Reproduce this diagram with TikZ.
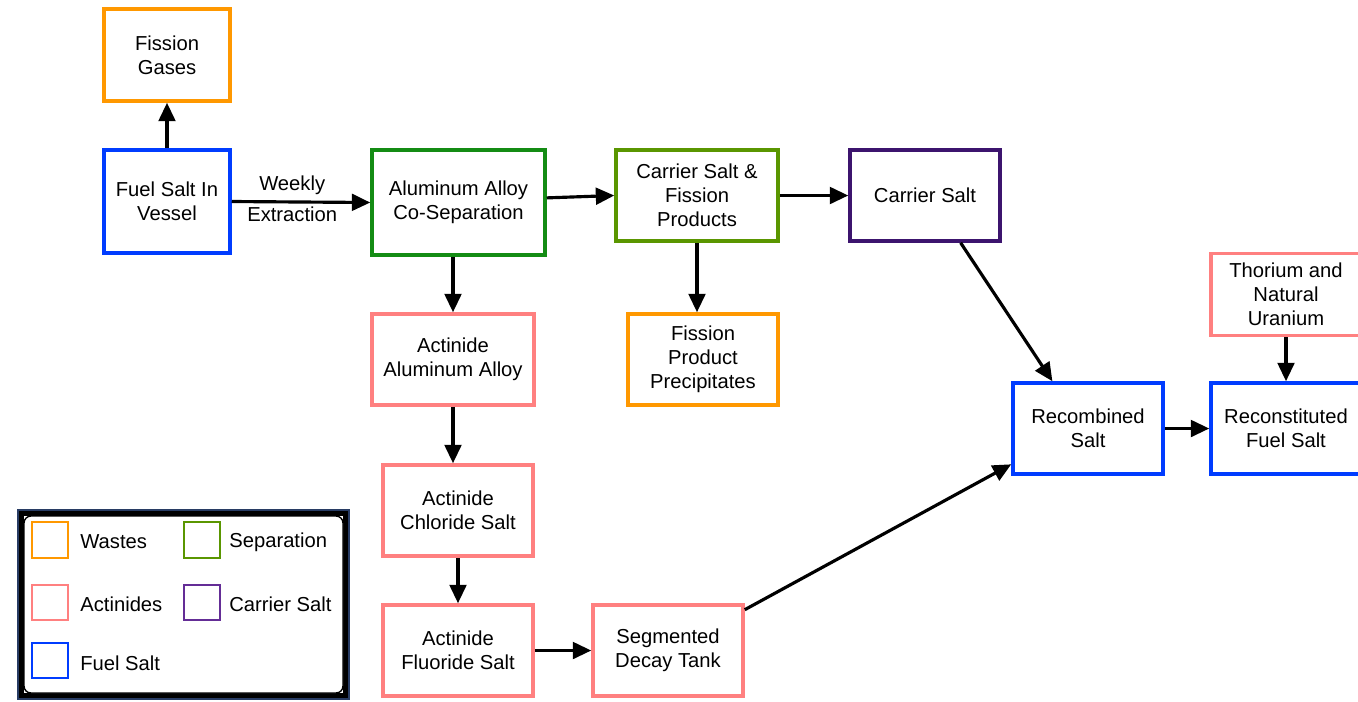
\documentclass[tikz,border=0pt]{standalone}
\usepackage{fontspec}
\setmainfont{Liberation Sans}
\usetikzlibrary{arrows.meta, positioning, calc}
\definecolor{wasteorange}{RGB}{255, 152, 0}
\definecolor{sepgreen}{RGB}{20, 140, 20}
\definecolor{sepolive}{RGB}{90, 150, 0}
\definecolor{actpink}{RGB}{255, 128, 128}
\definecolor{carrierpurple}{RGB}{60, 20, 110}
\definecolor{legendpurple}{RGB}{100, 45, 150}
\definecolor{fuelblue}{RGB}{0, 60, 255}
\definecolor{framebluegray}{RGB}{40, 60, 100}

\begin{document}
\begin{tikzpicture}[x=0.02cm, y=-0.02cm,
    box/.style={draw, line width=2pt, fill=white, align=center, inner sep=2pt,
        minimum width=3cm, minimum height=1.82cm, font=\fontsize{11.5}{13.6}\selectfont},
    wastebox/.style={box, draw=wasteorange},
    sepbox/.style={box, draw=sepgreen},
    actbox/.style={box, draw=actpink},
    carrierbox/.style={box, draw=carrierpurple},
    fuelbox/.style={box, draw=fuelblue},
    flow/.style={-{Triangle[length=10.5pt, width=9.5pt]}, line width=1.8pt},
    keysquare/.style={line width=1.3pt},
    keytext/.style={anchor=west, inner sep=0pt, font=\fontsize{11.5}{13.6}\selectfont}]
    \useasboundingbox (0,0) rectangle (1358,701);

    % Reactor and off-gas
    \node[wastebox, minimum width=2.52cm, minimum height=1.84cm] (gases) at (167,55) {Fission\\Gases};
    \node[fuelbox, minimum width=2.52cm, minimum height=2.06cm] (vessel) at (167,201.5) {Fuel Salt In\\Vessel};

    % Separation line
    \node[sepbox, minimum width=3.46cm, minimum height=2.1cm] (alloysep) at (458.5,202.5) {Aluminum Alloy\\Co-Separation};
    \node[box, draw=sepolive, minimum width=3.24cm] (carrierfp) at (697,195.5) {Carrier Salt \&\\Fission\\Products};
    \node[carrierbox] (carrier) at (925,195.5) {Carrier Salt};
    \node[wastebox] (precip) at (703,359.5) {Fission\\Product\\Precipitates};

    % Actinide line
    \node[actbox, minimum width=3.24cm] (actalloy) at (453,359.5) {Actinide\\Aluminum Alloy};
    \node[actbox] (actchloride) at (458,510.5) {Actinide\\Chloride Salt};
    \node[actbox] (actfluoride) at (458,650.5) {Actinide\\Fluoride Salt};
    \node[actbox] (decay) at (668,650.5) {Segmented\\Decay Tank};

    % Recombination
    \node[fuelbox] (recombined) at (1088,428.5) {Recombined\\Salt};
    \node[fuelbox] (reconst) at (1286,428.5) {Reconstituted\\Fuel Salt};
    \node[actbox, minimum height=1.64cm] (thorium) at (1286,294.5) {Thorium and\\Natural\\Uranium};

    % Flows
    \draw[flow] (vessel) -- (gases);
    \draw[flow] (vessel.east) -- (alloysep.west)
        node[midway, above, font=\fontsize{11.5}{13.6}\selectfont, xshift=-5pt] (weekly) {Weekly}
        node[midway, below, font=\fontsize{11.5}{13.6}\selectfont, xshift=-5pt, inner sep=2pt] (extraction) {Extraction};
    \draw[flow] (alloysep.3) -- (carrierfp.west);
    \draw[flow] (carrierfp.east) -- (carrier.west);
    \draw[flow] (carrierfp.south) -- (carrierfp.south |- precip.north);
    \draw[flow] (alloysep.south -| actalloy.north) -- (actalloy.north);
    \draw[flow] (actalloy.south) -- (actalloy.south |- actchloride.north);
    \draw[flow] (actchloride) -- (actfluoride);
    \draw[flow] (actfluoride) -- (decay);
    \draw[flow] (decay.28) -- (recombined.205);
    \draw[flow] (carrier.-53) -- (recombined.127);
    \draw[flow] (recombined) -- (reconst);
    \draw[flow] (thorium) -- (reconst);

    % Legend
    \draw[framebluegray, line width=0.8pt] (18,510) rectangle (349,699);
    \draw[line width=2.6pt] (21.5,513.5) rectangle (345.5,695.5);
    \draw[line width=0.8pt, fill=white, rounded corners=4pt] (24,516) rectangle (343,693);
    \draw[keysquare, wasteorange] (32,522) rectangle (68,558);
    \draw[keysquare, actpink] (32,585) rectangle (68,620);
    \draw[keysquare, fuelblue] (32,643) rectangle (68,678);
    \draw[keysquare, sepolive] (184,522) rectangle (220,558);
    \draw[keysquare, legendpurple] (184,585) rectangle (220,620);
    \node[keytext] (keywaste) at (80,542) {Wastes};
    \node[keytext] (keyact) at (80,604) {Actinides};
    \node[keytext] (keyfuel) at (80,663) {Fuel Salt};
    \node[keytext] (keysep) at (229,542) {Separation};
    \node[keytext] (keycarrier) at (229,604) {Carrier Salt};
\end{tikzpicture}
\end{document}
